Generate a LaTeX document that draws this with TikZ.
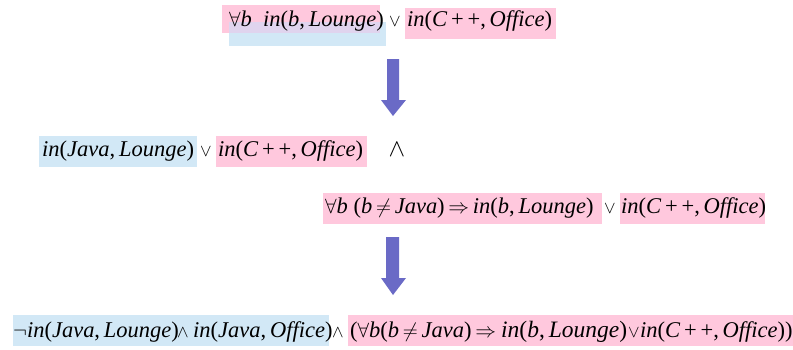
\documentclass[tikz,border=0pt]{standalone}
\usepackage{fontspec}
\setmainfont{Liberation Serif}
\newcommand\iv[1]{\textit{#1}}
\newcommand\cm{,\,}
\newcommand\opsym[1]{{\fontsize{18}{20}\selectfont$#1$}}
\definecolor{boxpink}{RGB}{255,200,221}
\definecolor{boxblue}{RGB}{210,232,246}
\definecolor{boxmix}{RGB}{224,212,238}
\definecolor{arrowblue}{RGB}{106,106,198}
\begin{document}
\begin{tikzpicture}[x=1pt,y=-1pt,
  formula/.style={anchor=base west,inner sep=0pt,font=\fontsize{22.5}{26}\selectfont},
  op/.style={anchor=base,inner sep=0pt,font=\fontsize{22.5}{26}\selectfont},
  pinkbox/.style={fill=boxpink},
  bluebox/.style={fill=boxblue},
  mixbox/.style={fill=boxmix},
  blockarrow/.style={fill=arrowblue}]
\useasboundingbox (0,0) rectangle (793,349);
% highlight boxes
\fill[bluebox] (229,22) rectangle (386,46);
\fill[pinkbox] (222,5) rectangle (380,33);
\fill[mixbox] (229,22) rectangle (380,33);
\fill[pinkbox] (405,8) rectangle (556,39);
\fill[bluebox] (39,136) rectangle (197,167);
\fill[pinkbox] (216,136) rectangle (367,167);
\fill[pinkbox] (323,193) rectangle (602,224);
\fill[pinkbox] (620,193) rectangle (765,224);
\fill[bluebox] (13,315) rectangle (329,346);
\fill[pinkbox] (348,315) rectangle (793,346);
% first line
\node[formula] (r1a) at (229,26) {$\forall$\iv{b}\enspace\iv{in}(\iv{b}\cm\iv{Lounge})};
\node[op] (r1or) at (395,26) {\opsym{\vee}};
\node[formula] (r1b) at (407,26) {\iv{in}(\iv{C}\,+\,+\cm\iv{Office})};
% second line
\node[formula] (r2a) at (42,156) {\iv{in}(\iv{Java}\cm\iv{Lounge})};
\node[op] (r2or) at (206,156) {\opsym{\vee}};
\node[formula] (r2b) at (218,156) {\iv{in}(\iv{C}\,+\,+\cm\iv{Office})};
\node[op] (r2and) at (397,156) {{\fontsize{26}{28}\selectfont$\wedge$}};
% third line
\node[formula] (r3a) at (325,213) {$\forall$\iv{b} (\iv{b}\,$\neq$\,\iv{Java})\,$\Rightarrow$\,\iv{in}(\iv{b}\cm\iv{Lounge})};
\node[op] (r3or) at (610,213) {\opsym{\vee}};
\node[formula] (r3b) at (621,213) {\iv{in}(\iv{C}\,+\,+\cm\iv{Office})};
% fourth line
\node[formula] (r4a) at (13,337) {$\neg$\iv{in}(\iv{Java}\cm\iv{Lounge})};
\node[op] (r4and1) at (183,337) {\opsym{\wedge}};
\node[formula] (r4b) at (193,337) {\iv{in}(\iv{Java}\cm\iv{Office})};
\node[op] (r4and2) at (338,337) {\opsym{\wedge}};
\node[formula] (r4c) at (350,337) {($\forall$\iv{b}(\iv{b}\,$\neq$\,\iv{Java})\,$\Rightarrow$};
\node[formula,font=\fontsize{23.5}{27}\selectfont] (r4d) at (501,337) {\iv{in}(\iv{b}\cm\iv{Lounge})};
\node[op] (r4or) at (634,337) {\opsym{\vee}};
\node[formula] (r4e) at (640,337) {\iv{in}(\iv{C}\,+\,+\cm\iv{Office}))};
% block arrows
\fill[blockarrow] (387,59) -- (399,59) -- (399,100) -- (406,100) -- (393,116) -- (381,100) -- (387,100) -- cycle;
\fill[blockarrow] (386,237) -- (399,237) -- (399,278) -- (406,278) -- (393,295) -- (381,278) -- (386,278) -- cycle;
\end{tikzpicture}
\end{document}
